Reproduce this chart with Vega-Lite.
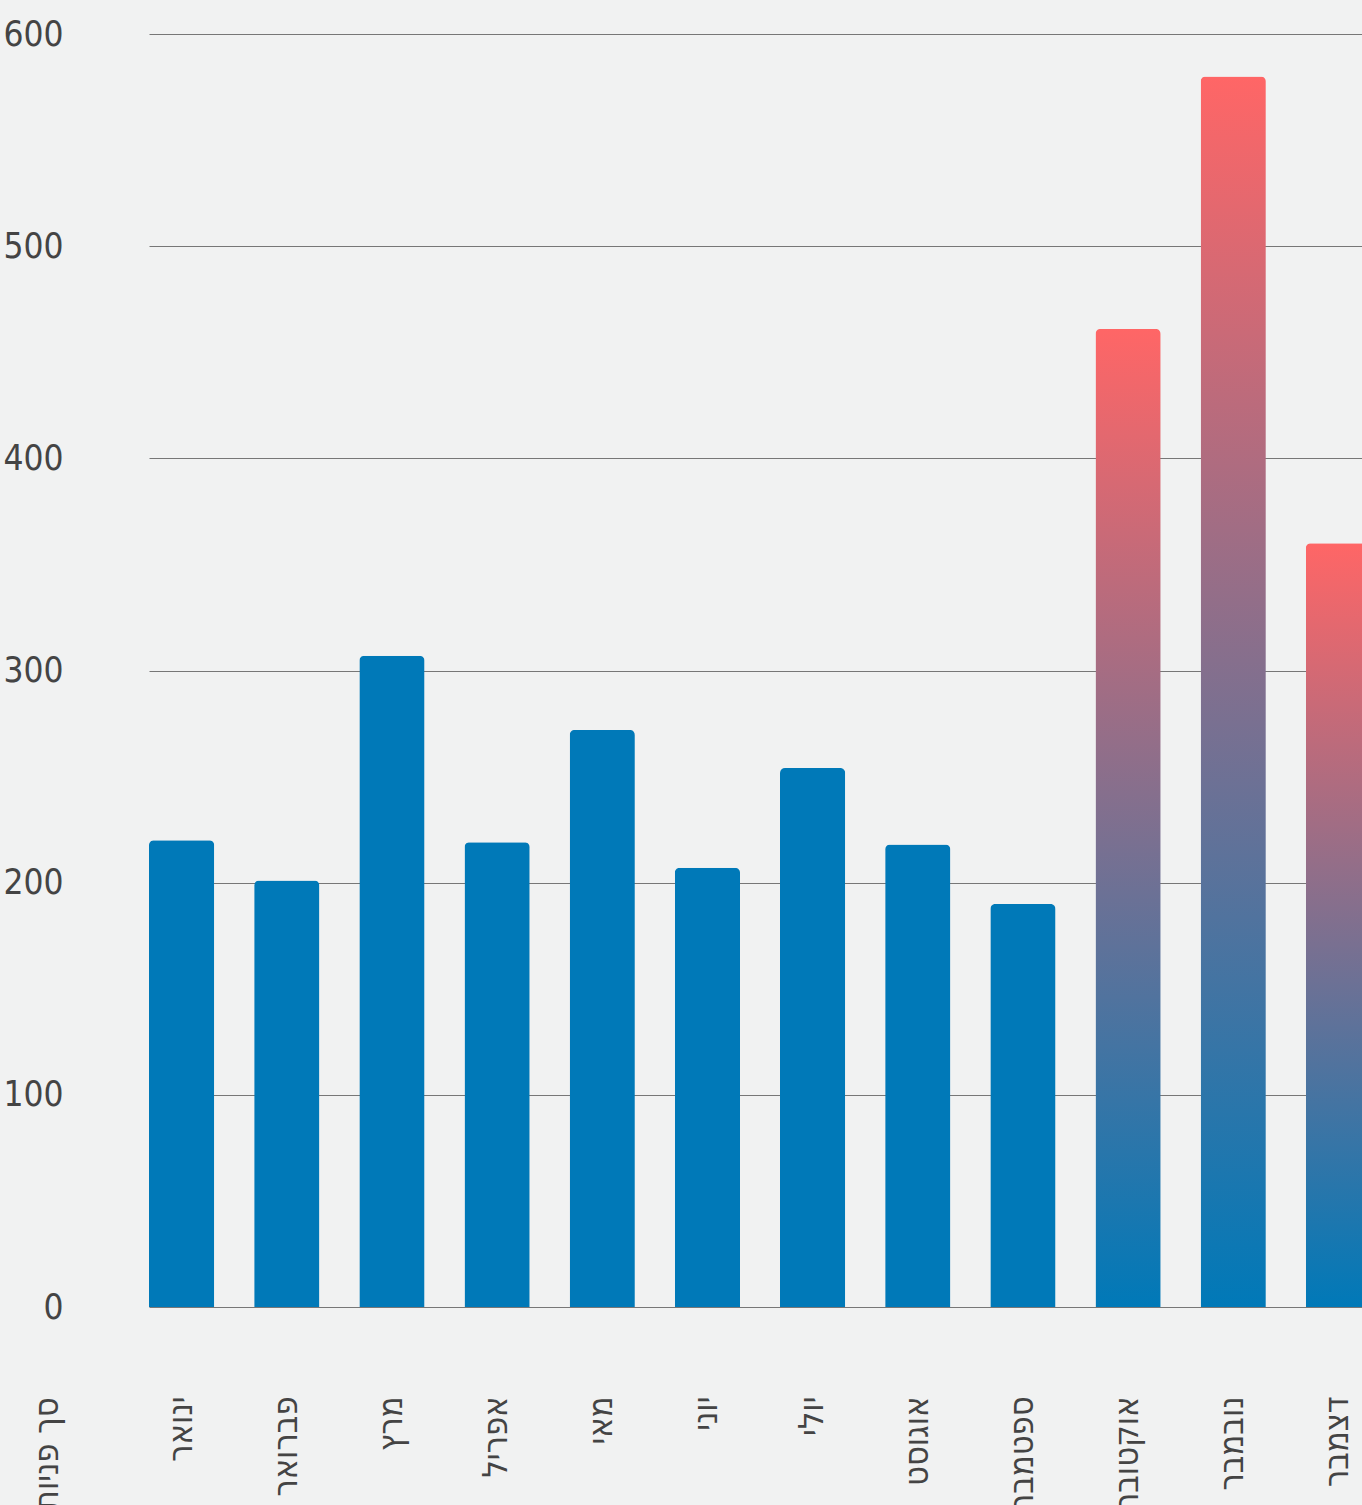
{
  "$schema": "https://vega.github.io/schema/vega-lite/v6.json",
  "autosize": "none",
  "padding": {"left": 149, "top": 34, "right": 0, "bottom": 198},
  "width": 1213,
  "height": 1273,
  "background": "#F1F2F2",
  "config": {
    "view": {"stroke": null},
    "font": "DejaVu Sans Condensed, DejaVu Sans, sans-serif"
  },
  "data": {
    "values": [
      {"month": "ינואר", "value": 220, "hl": 0},
      {"month": "פברואר", "value": 201, "hl": 0},
      {"month": "מרץ", "value": 307, "hl": 0},
      {"month": "אפריל", "value": 219, "hl": 0},
      {"month": "מאי", "value": 272, "hl": 0},
      {"month": "יוני", "value": 207, "hl": 0},
      {"month": "יולי", "value": 254, "hl": 0},
      {"month": "אוגוסט", "value": 218, "hl": 0},
      {"month": "ספטמבר", "value": 190, "hl": 0},
      {"month": "אוקטובר", "value": 461, "hl": 1},
      {"month": "נובמבר", "value": 580, "hl": 1},
      {"month": "דצמבר", "value": 360, "hl": 1}
    ]
  },
  "encoding": {
    "x": {
      "field": "month",
      "type": "nominal",
      "sort": null,
      "scale": {"range": [0, 1222], "paddingInner": 0.38, "paddingOuter": 0},
      "axis": {
        "title": "סך פניות",
        "titleAngle": -90,
        "titleAlign": "right",
        "titleBaseline": "middle",
        "titleX": -102,
        "titleY": 90,
        "titleFontSize": 34,
        "titleFontWeight": "normal",
        "titleColor": "#444444",
        "labelAngle": -90,
        "labelAlign": "right",
        "labelBaseline": "middle",
        "labelFontSize": 34,
        "labelColor": "#444444",
        "labelPadding": 89,
        "ticks": false,
        "tickSize": 0,
        "domain": false,
        "grid": false
      }
    },
    "y": {
      "field": "value",
      "type": "quantitative",
      "scale": {"domain": [0, 600], "nice": false},
      "axis": {
        "title": null,
        "values": [0, 100, 200, 300, 400, 500, 600],
        "labelFontSize": 35,
        "labelColor": "#444444",
        "labelPadding": 86,
        "ticks": false,
        "tickSize": 0,
        "domain": false,
        "grid": true,
        "gridColor": "#777777",
        "gridWidth": 1
      }
    }
  },
  "layer": [
    {
      "transform": [{"filter": "datum.hl == 0"}],
      "mark": {"type": "bar", "color": "#0079B8", "cornerRadiusTopLeft": 5, "cornerRadiusTopRight": 5}
    },
    {
      "transform": [{"filter": "datum.hl == 1"}],
      "mark": {
        "type": "bar",
        "cornerRadiusTopLeft": 5,
        "cornerRadiusTopRight": 5,
        "color": {
          "gradient": "linear",
          "x1": 0, "y1": 0, "x2": 0, "y2": 1,
          "stops": [
            {"offset": 0, "color": "#FF6666"},
            {"offset": 1, "color": "#0079B8"}
          ]
        }
      }
    }
  ]
}
